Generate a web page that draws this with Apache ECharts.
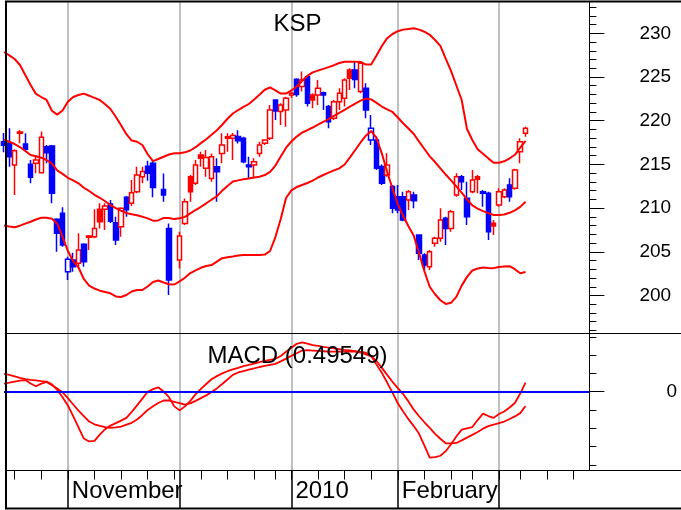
<!DOCTYPE html>
<html><head><meta charset="utf-8">
<script src="https://cdn.jsdelivr.net/npm/echarts@6/dist/echarts.min.js"></script>
<style>html,body{margin:0;padding:0;background:#fff;}#c{width:681px;height:510px;}</style>
</head><body><div id="c"></div>
<script>
const dates = [
'2009-10-15','2009-10-16','2009-10-19','2009-10-20','2009-10-21','2009-10-22','2009-10-23','2009-10-26','2009-10-27','2009-10-28','2009-10-29','2009-10-30',
'2009-11-02','2009-11-03','2009-11-04','2009-11-05','2009-11-06','2009-11-09','2009-11-10','2009-11-11','2009-11-12','2009-11-13','2009-11-16','2009-11-17','2009-11-18','2009-11-19','2009-11-20','2009-11-23','2009-11-24','2009-11-25','2009-11-26','2009-11-27','2009-11-30',
'2009-12-01','2009-12-02','2009-12-03','2009-12-04','2009-12-07','2009-12-08','2009-12-09','2009-12-10','2009-12-11','2009-12-14','2009-12-15','2009-12-16','2009-12-17','2009-12-18','2009-12-21','2009-12-22','2009-12-23','2009-12-24','2009-12-28','2009-12-29','2009-12-30',
'2010-01-04','2010-01-05','2010-01-06','2010-01-07','2010-01-08','2010-01-11','2010-01-12','2010-01-13','2010-01-14','2010-01-15','2010-01-18','2010-01-19','2010-01-20','2010-01-21','2010-01-22','2010-01-25','2010-01-26','2010-01-27','2010-01-28','2010-01-29',
'2010-02-01','2010-02-02','2010-02-03','2010-02-04','2010-02-05','2010-02-08','2010-02-09','2010-02-10','2010-02-11','2010-02-12','2010-02-16','2010-02-17','2010-02-18','2010-02-19','2010-02-22','2010-02-23','2010-02-24','2010-02-25','2010-02-26',
'2010-03-02','2010-03-03','2010-03-04','2010-03-05','2010-03-08','2010-03-09','2010-03-10','2010-03-11','2010-03-12','2010-03-15','2010-03-16','2010-03-17','2010-03-18','2010-03-19','2010-03-22','2010-03-23','2010-03-24','2010-03-25'];

const openP = [217.6,217.41,214.93,218.55,217.33,215.01,215.12,214.05,217.03,217.11,208.71,209.4,202.73,204.06,203.68,205.85,206.66,206.73,209.86,209.86,210.47,208.33,207.88,211.23,210.55,211.88,213.6,214.8,215.12,null,212.14,207.68,null,204.06,208.25,213.59,212.83,216.07,214.55,213.4,214.74,216.26,217.98,218.0,218.2,217.98,214.93,214.93,216.26,217.42,217.99,222.37,221.04,221.23,222.95,224.74,223.9,225.04,222.95,222.95,223.21,221.61,220.28,222.18,222.56,225.81,225.81,223.33,223.71,217.8,217.8,214.75,213.79,212.46,211.31,211.31,210.93,211.5,206.92,204.63,203.3,205.97,206.54,208.83,207.68,211.5,213.6,211.12,211.88,213.6,211.88,211.69,208.26,210.35,211.31,212.64,212.26,216.46,218.55];
const closeP = [217.2,215.88,216.57,218.71,216.72,213.52,215.5,218.1,216.34,211.69,207.11,205.78,204.14,203.3,205.21,203.87,206.81,207.68,208.45,210.24,208.5,206.35,209.97,209.8,211.77,213.78,214.2,214.0,212.37,null,211.49,201.77,null,206.8,210.73,211.88,214.93,215.69,215.8,215.88,214.16,217.22,218.17,218.3,217.7,215.31,214.74,215.31,217.22,217.8,221.23,221.1,221.8,222.56,223.14,223.0,224.66,221.99,222.37,223.71,222.95,219.89,222.18,223.14,224.66,224.85,224.7,226.57,221.23,219.13,214.56,212.84,214.94,209.98,209.78,208.64,211.88,210.85,204.82,203.49,205.02,206.54,208.64,207.68,209.59,213.6,213.02,209.02,213.22,213.3,211.69,207.3,207.95,211.88,212.07,211.31,214.36,217.6,219.13];
const lowP = [216.4,214.74,211.5,217.41,216.46,212.83,213.98,213.98,215.12,210.55,205.02,205.59,201.77,202.73,203.3,203.3,205.21,206.54,207.68,207.49,208.3,205.78,206.73,209.02,210.24,211.69,212.83,213.13,211.23,null,210.73,200.05,null,203.1,208.06,210.73,212.64,214.74,213.59,213.02,210.73,215.12,216.45,215.5,217.4,215.12,213.4,213.4,215.88,217.23,217.8,220.09,219.51,219.32,222.6,222.75,223.33,221.61,221.42,221.8,221.23,219.13,220.09,221.23,221.61,223.52,223.71,223.14,220.28,217.23,214.36,212.65,213.6,209.41,209.4,208.5,209.78,209.97,204.06,202.92,202.92,205.59,206.16,205.78,207.3,211.31,212.07,208.07,211.69,211.69,210.16,206.35,206.92,210.16,211.12,210.74,212.1,215.12,218.17];
const highP = [218.6,219.13,216.72,218.94,218.55,215.5,216.08,218.75,217.22,217.22,208.83,210.09,204.44,204.9,207.11,205.97,206.92,209.86,210.55,210.55,210.93,209.02,210.09,211.38,213.22,214.74,214.74,215.42,215.42,null,213.97,208.25,null,207.3,211.11,213.78,215.5,216.45,216.64,216.26,215.69,218.55,218.55,218.6,218.9,218.17,215.88,215.69,217.6,217.87,221.8,222.45,221.99,222.75,223.3,224.85,225.62,225.23,223.14,224.66,223.33,221.8,222.37,223.71,224.85,226.0,226.76,226.76,224.28,220.66,218.18,215.0,216.27,212.65,212.64,211.88,212.07,211.88,206.92,204.82,205.21,206.73,209.97,209.02,209.78,213.98,213.79,213.02,214.36,213.79,212.07,211.88,208.64,212.26,212.26,213.41,214.5,217.98,219.32];

const bbUpper = [227.86,227.48,227.06,226.37,225.22,224.08,223.07,222.71,222.37,221.14,220.69,221.16,222.16,222.71,222.94,223.1,222.86,222.61,222.37,221.88,221.34,220.45,219.47,218.46,217.73,217.59,217.22,216.16,215.37,215.62,215.88,216.13,216.27,216.27,216.38,216.59,216.97,217.43,217.88,218.4,218.91,219.54,220.22,220.82,221.22,221.57,221.91,222.43,222.97,223.54,223.8,223.46,223.1,223.1,223.46,223.91,224.54,225.13,225.53,225.73,225.93,226.13,226.35,226.6,226.75,226.75,226.75,226.72,226.42,226.43,227.45,228.55,229.44,229.92,230.24,230.42,230.5,230.58,230.42,230.18,229.83,229.23,228.56,227.09,225.69,224.03,222.37,219.05,217.79,216.74,216.22,215.69,215.19,215.19,215.35,215.69,216.1,216.92,217.68];
const bbMiddle = [217.83,217.59,217.33,216.99,216.53,216.08,215.93,215.77,215.5,215.08,214.31,213.92,213.47,213.16,212.84,212.33,211.96,211.52,211.18,210.78,210.35,209.99,209.7,209.44,209.3,209.18,209.02,208.82,208.56,208.59,208.88,208.87,208.74,208.83,209.0,209.39,209.78,210.15,210.55,210.96,211.36,212.0,212.52,213.04,213.17,213.3,213.39,213.49,213.58,213.78,214.15,214.87,215.9,216.91,217.62,218.18,218.63,218.91,219.22,219.55,219.87,220.19,220.55,220.89,221.24,221.6,221.96,222.3,222.53,222.43,222.03,221.62,221.3,221.0,220.37,219.71,219.1,218.48,217.61,216.76,215.92,215.27,214.54,213.84,213.17,212.48,211.77,211.01,210.31,209.94,209.66,209.42,209.21,209.21,209.26,209.46,209.74,210.14,210.72];
const bbLower = [208.01,207.89,207.81,207.99,208.22,208.44,208.7,208.9,208.9,208.78,208.24,206.72,205.1,203.94,203.2,201.89,201.14,200.8,200.55,200.4,200.25,199.89,199.83,200.06,200.46,200.63,200.63,201.03,201.54,201.72,201.49,201.28,201.26,201.62,202.03,202.57,202.87,203.17,203.38,203.48,203.88,204.27,204.37,204.46,204.57,204.63,204.63,204.63,204.63,204.68,205.09,206.69,208.75,211.16,212.03,212.41,212.64,212.87,213.15,213.5,213.79,214.06,214.32,214.55,214.99,215.81,216.65,217.51,218.28,218.83,218.02,216.24,214.15,212.24,210.43,209.13,207.92,206.83,204.82,202.77,201.0,200.14,199.46,199.04,199.16,199.85,201.13,202.13,202.86,203.09,203.21,203.16,203.13,203.26,203.33,203.36,203.01,202.54,202.68];

const macdLine = [0.97,0.92,0.84,0.76,0.69,0.65,0.62,0.58,0.55,0.4,0.1,-0.3,-0.75,-1.33,-1.95,-2.56,-2.72,-2.69,-2.35,-2.05,-1.85,-1.72,-1.58,-1.43,-1.1,-0.75,-0.38,0.0,0.14,0.24,0.0,-0.3,-0.8,-1.02,-0.8,-0.5,-0.15,0.15,0.42,0.68,0.85,1.0,1.12,1.22,1.3,1.4,1.47,1.54,1.61,1.68,1.74,1.8,1.95,2.18,2.4,2.62,2.7,2.63,2.55,2.5,2.45,2.41,2.37,2.33,2.29,2.26,2.22,2.18,2.13,1.95,1.48,1.03,0.5,-0.05,-0.63,-1.08,-1.5,-1.88,-2.3,-2.95,-3.6,-3.58,-3.5,-3.25,-2.87,-2.45,-2.07,-2.0,-1.93,-1.55,-1.2,-1.33,-1.43,-1.22,-1.08,-0.86,-0.62,-0.1,0.49549];
const signalLine = [0.44,0.49,0.55,0.6,0.64,0.45,0.3,0.44,0.53,0.35,0.17,-0.03,-0.35,-0.7,-1.03,-1.33,-1.63,-1.78,-1.87,-1.94,-1.97,-1.95,-1.91,-1.8,-1.7,-1.52,-1.27,-1.0,-0.8,-0.62,-0.48,-0.48,-0.56,-0.63,-0.71,-0.64,-0.5,-0.35,-0.2,-0.02,0.18,0.42,0.67,0.92,1.05,1.13,1.2,1.27,1.35,1.41,1.47,1.52,1.66,1.81,1.96,2.1,2.25,2.27,2.25,2.23,2.21,2.19,2.19,2.19,2.19,2.19,2.19,2.13,2.04,1.93,1.68,1.3,0.92,0.54,0.2,-0.13,-0.53,-0.98,-1.34,-1.67,-1.98,-2.3,-2.57,-2.82,-2.82,-2.8,-2.66,-2.51,-2.36,-2.2,-2.02,-1.88,-1.8,-1.72,-1.63,-1.49,-1.35,-1.17,-0.78];

const priceTicks = [200,205,210,215,220,225,230];
const priceMinorTicks = [196,197,198,199,200,201,202,203,204,205,206,207,208,209,210,211,212,213,214,215,216,217,218,219,220,221,222,223,224,225,226,227,228,229,230,231,232,233];
const macdZeroTick = [0];
const macdMinorTicks = [-4,-3,-2,-1,1,2,3];
const monthLabelDates = ['2009-11-02','2010-01-04','2010-02-01'];
const monthLabelTexts = ['November','2010','February'];
const titleText = 'KSP';

const RED = '#ff0000', BLUE = '#0000ff', FONT = '"Liberation Sans", Arial, sans-serif';

function isMonthStart(i){ return i > 0 && dates[i].slice(0,7) !== dates[i-1].slice(0,7); }
function weekId(d){ const t = Date.UTC(+d.slice(0,4), +d.slice(5,7)-1, +d.slice(8,10)) / 86400000; return Math.floor((t + 3) / 7); }
function isWeekStart(i){ return i > 0 && weekId(dates[i]) !== weekId(dates[i-1]); }

// colour: close vs previous close (red up / blue down); fill: hollow when close > open
const candleData = [];
let prevClose = null;
for (let i = 0; i < openP.length; i++) {
  if (openP[i] == null) { candleData.push(['-','-','-','-']); continue; }
  const up = prevClose == null ? closeP[i] >= openP[i] : closeP[i] >= prevClose;
  const c = up ? RED : BLUE;
  const fill = closeP[i] > openP[i] ? '#ffffff' : c;
  candleData.push({ value: [openP[i], closeP[i], lowP[i], highP[i]],
    itemStyle: { color: fill, color0: fill, borderColor: c, borderColor0: c, borderColorDoji: c, borderWidth: 1.5 } });
  prevClose = closeP[i];
}

const PMIN = 195.71, PMAX = 233.58, MMIN = -4.306, MMAX = 3.208;
const gridL = 4, gridR = 91.6;

const lineS = (data, xi, yi, w) => ({ type: 'line', data, xAxisIndex: xi, yAxisIndex: yi, showSymbol: false, symbol: 'none', silent: true,
  lineStyle: { color: RED, width: w }, itemStyle: { color: RED }, z: 3 });

const chart = echarts.init(document.getElementById('c'), null, { renderer: 'canvas' });
chart.setOption({
  animation: false,
  backgroundColor: '#ffffff',
  textStyle: { fontFamily: FONT },
  grid: [
    { left: gridL, right: gridR, top: 2, height: 331 },
    { left: gridL, right: gridR, top: 333, height: 137.5 }
  ],
  xAxis: [
    { type: 'category', gridIndex: 0, data: dates, boundaryGap: false,
      axisLine: { show: false, onZero: false }, axisTick: { show: false }, axisLabel: { show: false },
      splitLine: { show: true, interval: (i) => isMonthStart(i), lineStyle: { color: '#c0c0c0', width: 2 } } },
    { type: 'category', gridIndex: 1, data: dates, boundaryGap: false, position: 'bottom', offset: 0,
      axisLine: { show: false, onZero: false },
      axisTick: { show: true, interval: (i) => isWeekStart(i), length: 9, lineStyle: { color: '#000', width: 1 } },
      axisLabel: { show: true, interval: (i) => monthLabelDates.indexOf(dates[i]) >= 0,
        formatter: (v) => { const k = monthLabelDates.indexOf(v); return k >= 0 ? monthLabelTexts[k] : ''; },
        align: 'left', verticalAlign: 'top', padding: [0,0,0,4], margin: 9, lineHeight: 24,
        fontSize: 24, fontFamily: FONT, color: '#000' },
      splitLine: { show: true, interval: (i) => isMonthStart(i), lineStyle: { color: '#c0c0c0', width: 2 } } },
    { type: 'category', gridIndex: 1, data: dates, boundaryGap: false, position: 'bottom', offset: 0,
      axisLine: { show: false, onZero: false },
      axisTick: { show: true, interval: (i) => isMonthStart(i), length: 38, lineStyle: { color: '#000', width: 1.5 } },
      axisLabel: { show: false }, splitLine: { show: false } }
  ],
  yAxis: [
    { type: 'value', gridIndex: 0, position: 'right', min: PMIN, max: PMAX,
      axisLine: { show: true, onZero: false, lineStyle: { color: '#000', width: 1 } },
      axisTick: { show: true, customValues: priceTicks, length: 15, lineStyle: { color: '#000', width: 1 } },
      axisLabel: { show: true, customValues: priceTicks, margin: 50, fontSize: 19, fontFamily: FONT, color: '#000' },
      splitLine: { show: false } },
    { type: 'value', gridIndex: 0, position: 'right', offset: 0, min: PMIN, max: PMAX,
      axisLine: { show: false, onZero: false },
      axisTick: { show: true, customValues: priceMinorTicks, length: 7, lineStyle: { color: '#000', width: 1 } },
      axisLabel: { show: false }, splitLine: { show: false } },
    { type: 'value', gridIndex: 1, position: 'right', min: MMIN, max: MMAX,
      axisLine: { show: true, onZero: false, lineStyle: { color: '#000', width: 1 } },
      axisTick: { show: true, customValues: macdZeroTick, length: 15, lineStyle: { color: '#000', width: 1 } },
      axisLabel: { show: true, customValues: macdZeroTick, margin: 77, fontSize: 19, fontFamily: FONT, color: '#000' },
      splitLine: { show: false } },
    { type: 'value', gridIndex: 1, position: 'right', offset: 0, min: MMIN, max: MMAX,
      axisLine: { show: false, onZero: false },
      axisTick: { show: true, customValues: macdMinorTicks, length: 7, lineStyle: { color: '#000', width: 1 } },
      axisLabel: { show: false }, splitLine: { show: false } }
  ],
  series: [
    { type: 'candlestick', xAxisIndex: 0, yAxisIndex: 0, data: candleData, barWidth: 5, silent: true, z: 2 },
    lineS(bbUpper, 0, 0, 2),
    lineS(bbMiddle, 0, 0, 2),
    lineS(bbLower, 0, 0, 2),
    Object.assign(lineS(macdLine, 1, 2, 1.8), {
      markLine: { silent: true, symbol: ['none','none'], label: { show: false },
        lineStyle: { color: BLUE, width: 2, type: 'solid' }, data: [{ yAxis: 0 }] } }),
    lineS(signalLine, 1, 2, 1.8)
  ],
  graphic: [
    { type: 'text', x: 297.5, y: 24, z: 10, style: { text: titleText, font: '24px ' + FONT, fill: '#000', align: 'center', verticalAlign: 'middle' } },
    { type: 'text', x: 297.5, y: 356, z: 10, style: { text: 'MACD (' + macdLine[macdLine.length - 1] + ')', font: '24px ' + FONT, fill: '#000', align: 'center', verticalAlign: 'middle' } },
    { type: 'line', z: 20, shape: { x1: 6, y1: 1.5, x2: 6, y2: 509 }, style: { stroke: '#000', lineWidth: 2 } },
    { type: 'line', z: 20, shape: { x1: 5, y1: 1.5, x2: 681, y2: 1.5 }, style: { stroke: '#000', lineWidth: 2 } },
    { type: 'line', z: 20, shape: { x1: 6, y1: 333.5, x2: 681, y2: 333.5 }, style: { stroke: '#000', lineWidth: 1 } },
    { type: 'line', z: 20, shape: { x1: 6, y1: 470.5, x2: 681, y2: 470.5 }, style: { stroke: '#000', lineWidth: 1 } },
    { type: 'line', z: 20, shape: { x1: 5, y1: 508.5, x2: 681, y2: 508.5 }, style: { stroke: '#000', lineWidth: 2 } }
  ]
});
</script>
</body></html>
